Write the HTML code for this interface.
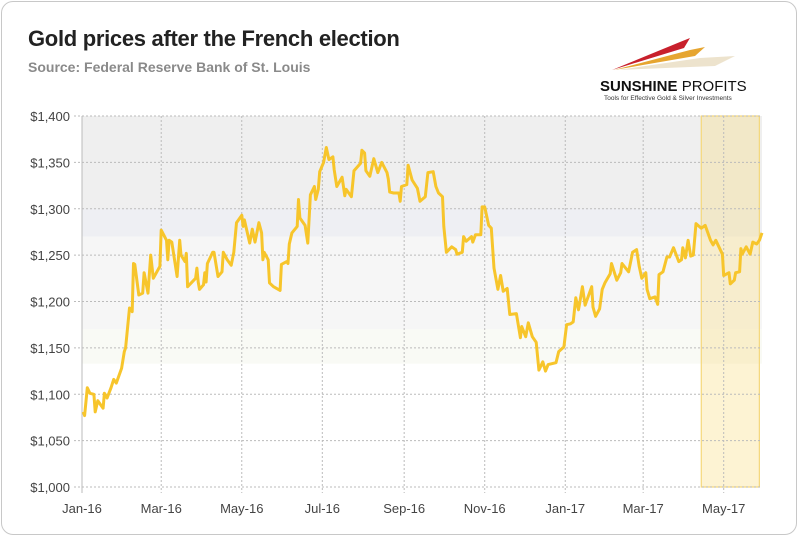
<!DOCTYPE html>
<html><head><meta charset="utf-8"><style>
body{margin:0;background:#fff;width:800px;height:538px;overflow:hidden;font-family:"Liberation Sans",sans-serif}
#frame{position:absolute;left:1px;top:1px;width:796px;height:534px;border:1px solid #c8c8c8;border-radius:12px;box-sizing:border-box}
#title{position:absolute;left:28px;top:26px;font-size:22px;font-weight:bold;color:#222;letter-spacing:-0.3px}
#sub{position:absolute;left:28px;top:59px;font-size:14px;font-weight:bold;color:#8a8a8a}
</style></head><body>
<div id="frame"></div>
<div id="title">Gold prices after the French election</div>
<div id="sub">Source: Federal Reserve Bank of St. Louis</div>
<svg id="logo" width="800" height="538" style="position:absolute;left:0;top:0">
<polygon points="612,70 680,42 690,38 684,48" fill="#c8202c"/>
<polygon points="614,70 690,50 705,47 695,56" fill="#e6a530"/>
<polygon points="618,70 700,58 735,56 715,66" fill="#e8dcc0" opacity="0.8"/>
<text x="600" y="91" font-size="15" font-weight="bold" fill="#111">SUNSHINE <tspan font-weight="normal">PROFITS</tspan></text>
<text x="604" y="100" font-size="6.5" fill="#333">Tools for Effective Gold &amp; Silver Investments</text>
</svg>
<svg id="chart" width="800" height="538" style="position:absolute;left:0;top:0"></svg>
<script>
const tickDays=[0,60,121,182,244,305,366,425,486];
const tickLabels=["Jan-16","Mar-16","May-16","Jul-16","Sep-16","Nov-16","Jan-17","Mar-17","May-17"];
const yTicks=[1000,1050,1100,1150,1200,1250,1300,1350,1400];
const yTickLabels=["$1,000","$1,050","$1,100","$1,150","$1,200","$1,250","$1,300","$1,350","$1,400"];
const highlightDays=[469,513];
const days=[1,2,4,6,9,10,12,16,17,19,22,24,26,30,32,33,36,38,39,40,43,46,47,50,52,54,59,60,64,65,66,68,72,74,75,78,79,80,86,87,88,89,92,93,94,95,99,100,103,106,107,110,113,115,117,121,122,123,127,129,131,134,136,137,138,141,142,145,150,151,155,156,157,159,163,164,165,169,171,173,176,177,179,180,183,185,187,190,191,193,197,199,200,204,206,211,212,214,215,218,221,224,227,231,232,233,236,240,241,242,246,247,250,254,256,260,262,266,268,270,273,274,276,280,283,284,288,289,291,295,296,298,302,303,305,308,310,312,315,317,319,322,324,329,332,333,336,338,341,344,346,349,351,353,359,361,365,367,370,372,374,376,377,379,381,386,387,389,392,394,396,400,401,405,408,409,414,417,420,422,424,427,428,430,434,436,437,440,443,445,448,452,454,455,457,459,461,463,465,469,472,476,478,480,485,486,490,491,494,495,498,499,500,503,506,508,511,513,515];
const prices=[1081,1077,1107,1101,1100,1081,1093,1085,1101,1096,1107,1116,1112,1128,1146,1150,1193,1189,1241,1240,1207,1209,1231,1209,1250,1225,1238,1277,1266,1245,1266,1264,1227,1266,1250,1243,1252,1216,1225,1236,1221,1213,1218,1231,1221,1241,1253,1253,1227,1232,1253,1245,1239,1253,1285,1293,1281,1288,1263,1278,1264,1285,1274,1245,1253,1245,1220,1216,1212,1240,1243,1241,1262,1274,1281,1310,1290,1282,1263,1315,1324,1310,1321,1340,1350,1366,1353,1356,1342,1324,1334,1314,1321,1313,1341,1349,1363,1360,1341,1335,1354,1339,1350,1339,1332,1318,1317,1317,1308,1324,1326,1347,1331,1322,1308,1313,1339,1340,1324,1317,1313,1281,1253,1259,1256,1251,1253,1270,1265,1270,1264,1272,1272,1302,1302,1282,1279,1236,1213,1228,1211,1214,1186,1187,1161,1173,1162,1177,1162,1156,1126,1135,1125,1132,1134,1146,1151,1175,1176,1178,1204,1191,1199,1216,1196,1216,1194,1184,1192,1213,1220,1230,1241,1223,1231,1241,1232,1253,1256,1238,1225,1231,1213,1203,1205,1197,1229,1232,1248,1248,1258,1243,1245,1258,1247,1266,1249,1250,1284,1279,1282,1266,1261,1266,1251,1228,1231,1219,1223,1231,1232,1257,1251,1259,1251,1264,1262,1266,1274];
const L=82,R=762,T=116,B=487,D0=0,D1=515,Y0=1000,Y1=1400;
const xs=d=>L+(d-D0)/(D1-D0)*(R-L);
const ys=v=>B-(v-Y0)/(Y1-Y0)*(B-T);
const svg=document.getElementById('chart');
const NS='http://www.w3.org/2000/svg';
function mk(t,a){const e=document.createElementNS(NS,t);for(const k in a)e.setAttribute(k,a[k]);svg.appendChild(e);return e;}
// background bands
const bands=[[1400,1270,'#efefef'],[1300,1270,'#eeeff3'],[1270,1170,'#f6f6f6'],[1170,1133,'#f9faf5']];
bands.forEach(b=>{const r=mk('rect',{x:L,y:ys(b[0]),width:R-L,height:ys(b[1])-ys(b[0]),fill:b[2]});

});
// highlight
const hl=mk('rect',{x:xs(highlightDays[0]),y:T,width:xs(highlightDays[1])-xs(highlightDays[0]),height:B-T,fill:'rgba(250,215,110,0.3)',stroke:'#f5d77a','stroke-width':1.2});


// grid
yTicks.forEach((v,i)=>{const g=mk('line',{x1:L-8,x2:R,y1:ys(v),y2:ys(v),stroke:'#bbb','stroke-dasharray':'2,2','stroke-width':1});


const t=mk('text',{x:70,y:ys(v)+5,'text-anchor':'end','font-size':13,fill:'#444'});t.textContent=yTickLabels[i];

});
tickDays.forEach((d,i)=>{const g=mk('line',{x1:xs(d),x2:xs(d),y1:T,y2:B+6,stroke:d===0?'#bbb':'#bbb','stroke-dasharray':d===0?'':'2,2','stroke-width':1});


const t=mk('text',{x:xs(d),y:513,'text-anchor':'middle','font-size':13,fill:'#444'});t.textContent=tickLabels[i];

});
// line
const p=mk('path',{d:days.map((d,i)=>(i?'L':'M')+xs(d).toFixed(1)+','+ys(prices[i]).toFixed(1)).join(''),fill:'none',stroke:'#f7c52b','stroke-width':3,'stroke-linejoin':'round'});


</script>
</body></html>
